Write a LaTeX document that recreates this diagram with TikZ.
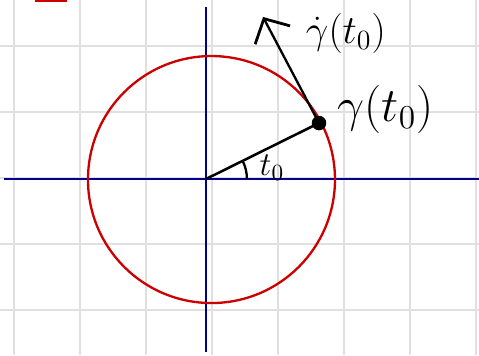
\documentclass[tikz,border=0pt]{standalone}
\usetikzlibrary{arrows.meta}
\begin{document}
\begin{tikzpicture}[
        gridline/.style={black!12, line width=0.8pt},
        axis/.style={blue!55!black, line width=1.1pt},
        curve/.style={red!80!black, line width=1pt},
        vec/.style={-{Straight Barb[length=8pt, width=17pt, line width=1.2pt]}, line width=1pt},
        lbl/.style={inner sep=0pt}
    ]
        % Frame and grid
        \useasboundingbox (-3.121,-2.667) rectangle (4.136,2.712);
        \foreach \i in {0,...,7} \draw[gridline] ({-2.909+\i},-2.667) -- ({-2.909+\i},2.712);
        \foreach \i in {0,...,4} \draw[gridline] (-3.121,{2.015-\i}) -- (4.136,{2.015-\i});
        
        % Axes
        \coordinate (xmin) at (-3.06,0);
        \coordinate (xmax) at (4.136,0);
        \coordinate (ymin) at (0,-2.621);
        \coordinate (ymax) at (0,2.606);
        \draw[axis] (xmin) -- (xmax);
        \draw[axis] (ymin) -- (ymax);
        
        % Circle
        \draw[curve] (0.083,-0.008) circle (1.871);
        \draw[red!80!black, line width=1.4pt] (-2.59,2.705) -- (-2.11,2.705);
        
        % Point, radius and tangent vector
        \coordinate (origin) at (0,0);
        \node[circle, fill=black, inner sep=0pt, minimum size=0.22cm] (point) at (1.712,0.848) {};
        \coordinate (tip) at (0.864,2.455);
        \draw[line width=1.1pt] (origin) -- (point.center);
        \draw[vec] (point.center) -- (tip);
        \draw[line width=1pt] (0.62,0) arc (0:26.35:0.62);
        
        % Labels
        \node[lbl, font=\huge] (gammalbl) at (2.72,1.05) {$\gamma(t_0)$};
        \node[lbl, font=\LARGE] (dotlbl) at (2.12,2.21) {$\dot\gamma(t_0)$};
        \node[lbl, font=\Large] (anglelbl) at (1.0,0.17) {$t_0$};
        
    \end{tikzpicture}
\end{document}
